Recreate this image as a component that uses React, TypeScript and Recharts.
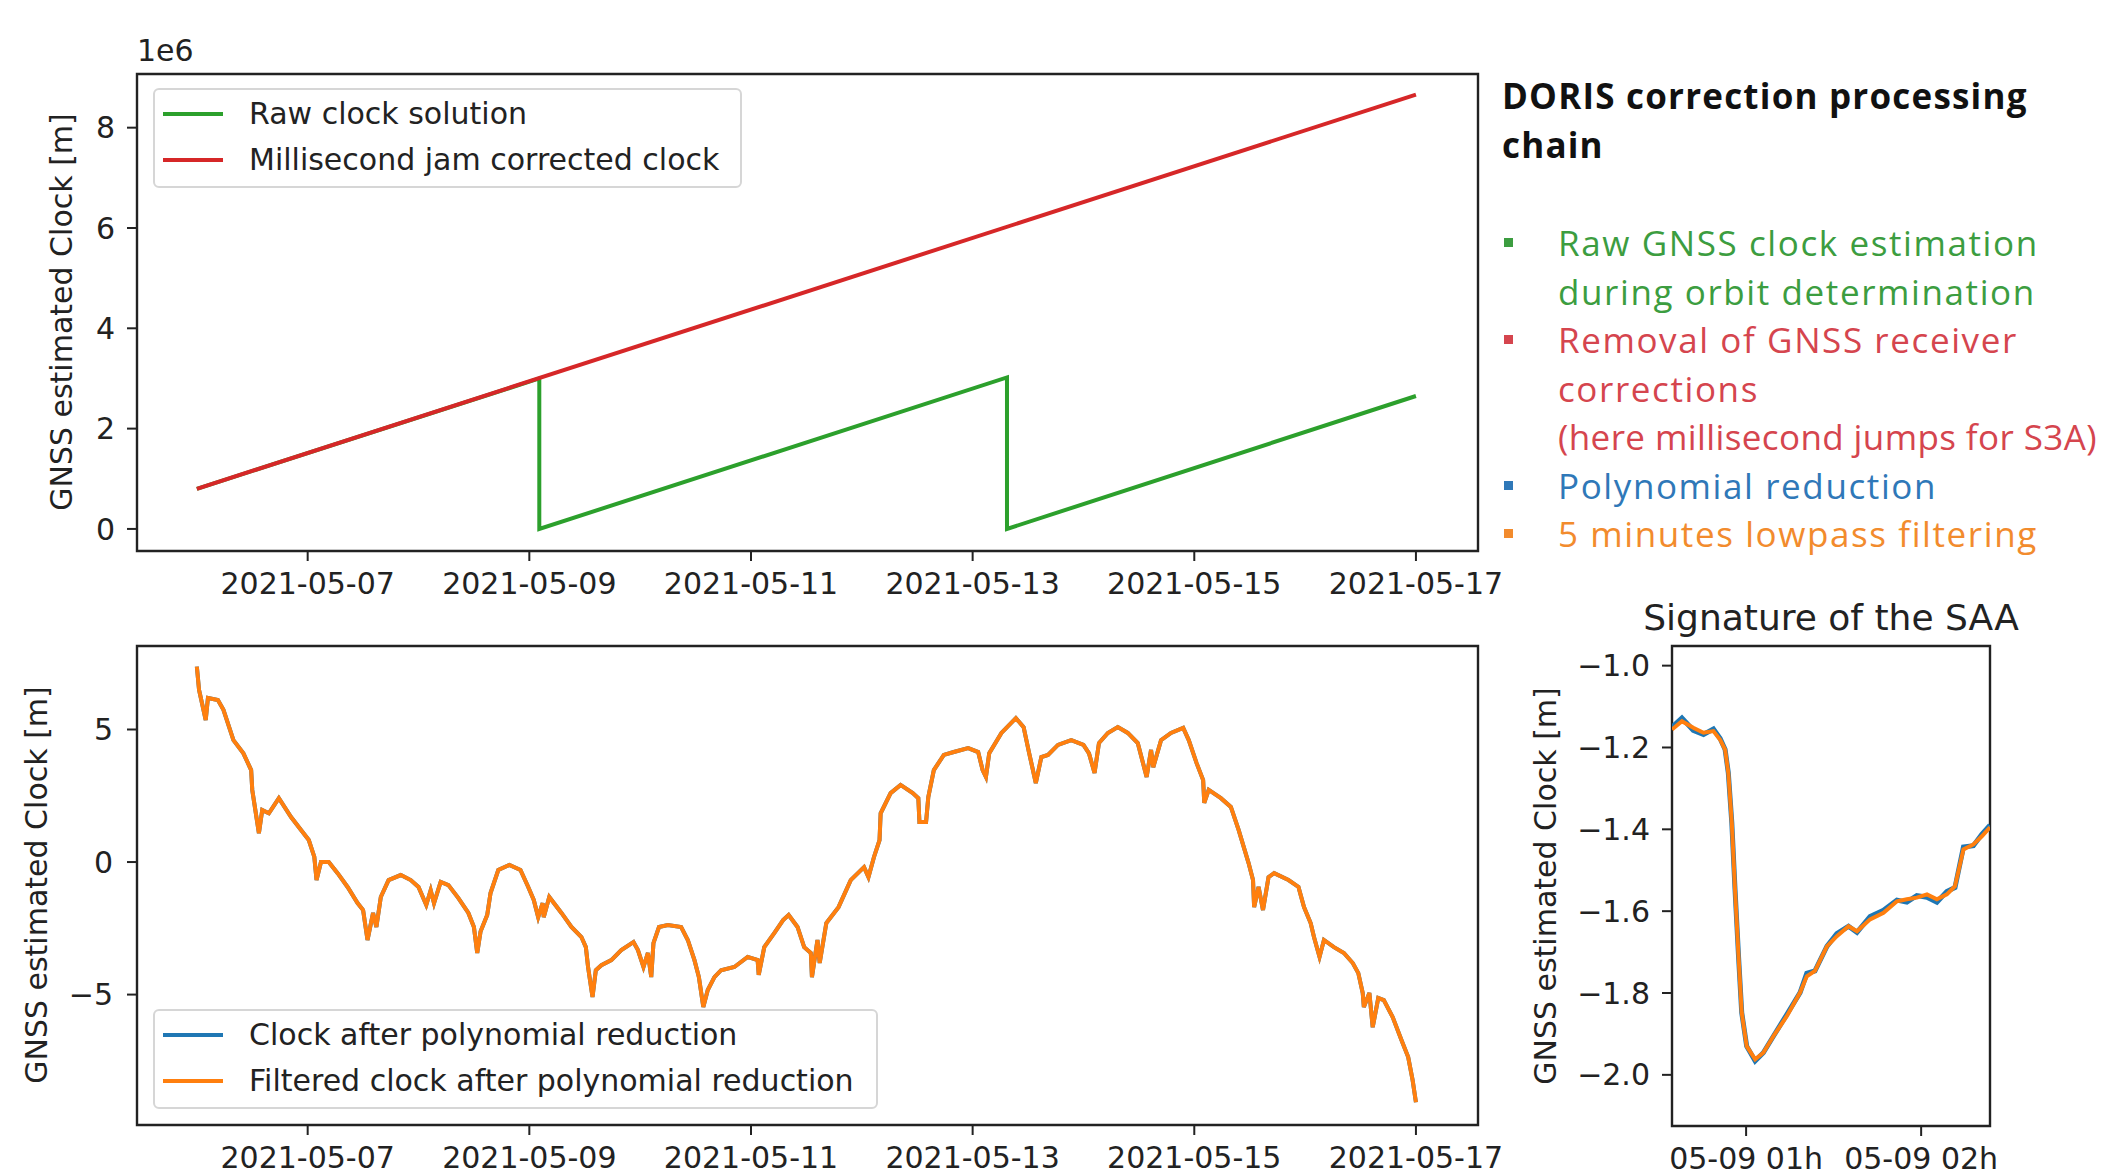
import React from 'react';
import { LineChart, Line, XAxis, YAxis, ReferenceArea } from 'recharts';

// time axis of the two left panels: days since 2021-05-06 00:00
const dayTicks = [1, 3, 5, 7, 9, 11];
const dayTickLabels = ['2021-05-07', '2021-05-09', '2021-05-11', '2021-05-13', '2021-05-15', '2021-05-17'];

// top panel, clock in 1e6 m
const rawTimes = [0, 3.09, 3.09, 7.31, 7.31, 11];
const rawClock = [0.8, 3.0, 0.0, 3.02, 0.0, 2.65];
const jamTimes = [0, 11];
const jamClock = [0.8, 8.66];
const topYTicks = [0, 2, 4, 6, 8];

// bottom panel, clock after polynomial reduction [m]
const polyTimes = [
  0.0, 0.02, 0.08, 0.1, 0.19, 0.24, 0.33, 0.42, 0.49, 0.5, 0.56, 0.59, 0.65, 0.74, 0.85, 0.94, 1.01, 1.06, 1.08,
  1.12, 1.19, 1.27, 1.36, 1.45, 1.5, 1.54, 1.59, 1.62, 1.66, 1.73, 1.84, 1.93, 2.0, 2.07, 2.11, 2.14, 2.2, 2.27,
  2.36, 2.45, 2.5, 2.53, 2.56, 2.62, 2.65, 2.72, 2.82, 2.92, 2.99, 3.04, 3.08, 3.12, 3.13, 3.18, 3.29, 3.38, 3.47,
  3.51, 3.53, 3.57, 3.6, 3.65, 3.74, 3.83, 3.94, 3.98, 4.03, 4.07, 4.1, 4.12, 4.17, 4.25, 4.37, 4.43, 4.49, 4.53,
  4.57, 4.61, 4.67, 4.73, 4.85, 4.97, 5.06, 5.07, 5.12, 5.21, 5.29, 5.34, 5.42, 5.48, 5.54, 5.55, 5.6, 5.62, 5.68,
  5.79, 5.9, 6.02, 6.06, 6.11, 6.16, 6.17, 6.26, 6.35, 6.46, 6.51, 6.52, 6.58, 6.6, 6.65, 6.74, 6.83, 6.96, 7.05,
  7.09, 7.12, 7.15, 7.26, 7.39, 7.46, 7.51, 7.57, 7.62, 7.68, 7.77, 7.89, 8.0, 8.05, 8.1, 8.14, 8.22, 8.31, 8.4,
  8.49, 8.57, 8.61, 8.63, 8.7, 8.79, 8.9, 8.95, 9.02, 9.08, 9.09, 9.13, 9.24, 9.33, 9.4, 9.49, 9.53, 9.54, 9.58,
  9.62, 9.67, 9.72, 9.85, 9.94, 9.99, 10.05, 10.08, 10.13, 10.17, 10.26, 10.35, 10.43, 10.48, 10.52, 10.53, 10.58,
  10.61, 10.66, 10.71, 10.79, 10.87, 10.93, 10.97, 11.0,
];
const polyClock = [
  7.37, 6.49, 5.36, 6.19, 6.11, 5.74, 4.6, 4.1, 3.47, 2.72, 1.09, 1.96, 1.84, 2.41, 1.7, 1.21, 0.83, 0.19, -0.68,
  0.0, 0.0, -0.42, -0.94, -1.55, -1.81, -2.94, -1.92, -2.45, -1.32, -0.68, -0.49, -0.68, -0.94, -1.62, -1.06, -1.55,
  -0.75, -0.87, -1.36, -1.92, -2.45, -3.43, -2.62, -2.0, -1.17, -0.3, -0.11, -0.3, -0.94, -1.43, -2.08, -1.55, -2.08,
  -1.32, -1.92, -2.45, -2.83, -3.21, -3.96, -5.09, -4.08, -3.89, -3.7, -3.32, -3.02, -3.32, -3.96, -3.43, -4.34,
  -3.06, -2.45, -2.38, -2.45, -2.94, -3.7, -4.34, -5.47, -4.83, -4.34, -4.08, -3.96, -3.58, -3.7, -4.26, -3.21,
  -2.68, -2.19, -2.0, -2.45, -3.21, -3.43, -4.34, -2.94, -3.81, -2.3, -1.7, -0.68, -0.19, -0.57, 0.19, 0.83, 1.84,
  2.6, 2.91, 2.6, 2.41, 1.51, 1.51, 2.45, 3.47, 4.04, 4.15, 4.3, 4.15, 3.47, 3.21, 4.11, 4.87, 5.43, 5.09, 4.11,
  2.98, 3.96, 4.04, 4.42, 4.6, 4.42, 4.1, 3.36, 4.49, 4.87, 5.09, 4.87, 4.49, 3.21, 4.23, 3.58, 4.6, 4.87, 5.06,
  4.6, 3.74, 3.09, 2.23, 2.72, 2.41, 2.08, 1.21, -0.04, -0.68, -1.7, -0.94, -1.81, -0.57, -0.42, -0.68, -0.94,
  -1.7, -2.3, -2.83, -3.58, -2.94, -3.21, -3.43, -3.81, -4.19, -4.94, -5.47, -4.94, -6.23, -5.13, -5.21, -5.85,
  -6.72, -7.36, -8.23, -9.06,
];
// the 5 min filtered curve is indistinguishable from the raw one at this scale
const filteredClock = polyClock;
const bottomYTicks = [-5, 0, 5];

// SAA zoom: minutes after 2021-05-09 00:00
const saaTimes = [
  34.6, 38.0, 41.9, 45.4, 48.8, 51.1, 52.8, 53.9, 55.1, 56.2, 57.4, 58.5, 60.2, 63.1, 65.9, 69.4, 74.0, 78.5, 80.8,
  83.6, 87.7, 91.1, 95.1, 98.0, 102.5, 107.1, 111.7, 115.1, 118.5, 122.0, 125.4, 128.8, 131.6, 134.5, 137.9, 140.8,
  143.6,
];
const saaRaw = [
  -1.15, -1.128, -1.158, -1.168, -1.155, -1.178, -1.205, -1.262, -1.384, -1.547, -1.71, -1.848, -1.93, -1.966,
  -1.946, -1.905, -1.852, -1.799, -1.752, -1.746, -1.686, -1.655, -1.637, -1.652, -1.613, -1.598, -1.573, -1.578,
  -1.562, -1.566, -1.578, -1.552, -1.542, -1.443, -1.44, -1.412, -1.39,
];
const saaFiltered = [
  -1.156, -1.136, -1.152, -1.164, -1.16, -1.181, -1.205, -1.262, -1.384, -1.547, -1.71, -1.848, -1.93, -1.962,
  -1.946, -1.905, -1.856, -1.799, -1.759, -1.746, -1.686, -1.661, -1.637, -1.649, -1.62, -1.604, -1.576, -1.571,
  -1.567, -1.559, -1.571, -1.559, -1.539, -1.449, -1.437, -1.417, -1.395,
];
const saaXTicks = [60, 120];
const saaXTickLabels = ['05-09 01h', '05-09 02h'];
const saaYTicks = [-2.0, -1.8, -1.6, -1.4, -1.2, -1.0];

const chainTitle = ['DORIS correction processing', 'chain'];
const chainSteps = [
  { color: '#3c9d40', lines: ['Raw GNSS clock estimation', 'during orbit determination'] },
  { color: '#d5454e', lines: ['Removal of GNSS receiver', 'corrections', '(here millisecond jumps for S3A)'] },
  { color: '#2f78b8', lines: ['Polynomial reduction'] },
  { color: '#f28b2d', lines: ['5 minutes lowpass filtering'] },
];

const GREEN = '#2ca02c';
const RED = '#d62728';
const BLUE = '#1f77b4';
const ORANGE = '#ff7f0e';
const INK = '#222';
const MPL_FONT = '"DejaVu Sans", sans-serif';

const toPoints = (xs: number[], ys: number[]) => xs.map((x, i) => ({ x, y: ys[i] }));
const minus = (s: string) => s.replace('-', '\u2212');
const fmtDay = (v: number) => dayTickLabels[dayTicks.indexOf(v)] ?? '';
const fmtSaaTime = (v: number) => saaXTickLabels[saaXTicks.indexOf(v)] ?? '';

const tickStyle = { fill: INK, fontSize: 30, fontFamily: MPL_FONT };
const tickLine = { stroke: INK, strokeWidth: 2 };

function YTitle({ cx, cy, text }: { cx: number; cy: number; text: string }) {
  return (
    <div
      style={{
        position: 'absolute',
        left: cx,
        top: cy,
        transform: 'translate(-50%, -50%) rotate(-90deg)',
        whiteSpace: 'nowrap',
        fontFamily: MPL_FONT,
        fontSize: 30,
        color: INK,
      }}
    >
      {text}
    </div>
  );
}

function LegendBox({
  left,
  top,
  width,
  items,
}: {
  left: number;
  top: number;
  width: number;
  items: { label: string; color: string }[];
}) {
  return (
    <div
      style={{
        position: 'absolute',
        left,
        top,
        width,
        height: 100,
        boxSizing: 'border-box',
        border: '2px solid #d6d6d6',
        borderRadius: 6,
        background: 'rgba(255,255,255,0.85)',
        fontFamily: MPL_FONT,
        fontSize: 30,
        color: INK,
      }}
    >
      {items.map((it, i) => (
        <div key={it.label} style={{ position: 'absolute', left: 0, top: 1 + i * 46, height: 46, width: '100%' }}>
          <div style={{ position: 'absolute', left: 8, top: 21, width: 60, height: 4, background: it.color }} />
          <div style={{ position: 'absolute', left: 94, top: 0, lineHeight: '46px', whiteSpace: 'nowrap' }}>
            {it.label}
          </div>
        </div>
      ))}
    </div>
  );
}

export default function App() {
  const topX: [number, number] = [-0.54, 11.56];
  const topY: [number, number] = [-0.44, 9.07];
  const botY: [number, number] = [-9.92, 8.15];
  const saaX: [number, number] = [34.6, 143.6];
  const saaY: [number, number] = [-2.125, -0.952];

  return (
    <div
      style={{
        position: 'absolute',
        left: 0,
        top: 0,
        width: 2121,
        height: 1176,
        overflow: 'hidden',
        background: '#fff',
      }}
    >
      {/* top: raw vs millisecond-jam corrected clock */}
      <div style={{ position: 'absolute', left: 0, top: 0 }}>
        <LineChart width={1530} height={620} margin={{ top: 74, right: 52, bottom: 0, left: 0 }}>
          <XAxis
            type="number"
            dataKey="x"
            domain={topX}
            allowDataOverflow
            ticks={dayTicks}
            tickFormatter={fmtDay}
            height={69}
            tickSize={10}
            tickMargin={12}
            tick={tickStyle}
            tickLine={tickLine}
            axisLine={false}
          />
          <YAxis
            type="number"
            dataKey="y"
            domain={topY}
            allowDataOverflow
            ticks={topYTicks}
            width={137}
            tickSize={10}
            tickMargin={12}
            tick={tickStyle}
            tickLine={tickLine}
            axisLine={false}
          />
          <ReferenceArea
            x1={topX[0]}
            x2={topX[1]}
            y1={topY[0]}
            y2={topY[1]}
            fill="none"
            stroke={INK}
            strokeWidth={2.4}
            ifOverflow="visible"
          />
          <Line
            data={toPoints(rawTimes, rawClock)}
            dataKey="y"
            type="linear"
            stroke={GREEN}
            strokeWidth={4}
            dot={false}
            isAnimationActive={false}
          />
          <Line
            data={toPoints(jamTimes, jamClock)}
            dataKey="y"
            type="linear"
            stroke={RED}
            strokeWidth={4}
            dot={false}
            isAnimationActive={false}
          />
        </LineChart>
      </div>
      <div style={{ position: 'absolute', left: 137, top: 33, fontFamily: MPL_FONT, fontSize: 30, color: INK }}>1e6</div>
      <YTitle cx={61} cy={312} text="GNSS estimated Clock [m]" />
      <LegendBox
        left={153}
        top={88}
        width={589}
        items={[
          { label: 'Raw clock solution', color: GREEN },
          { label: 'Millisecond jam corrected clock', color: RED },
        ]}
      />

      {/* bottom: after polynomial reduction */}
      <div style={{ position: 'absolute', left: 0, top: 600 }}>
        <LineChart width={1530} height={576} margin={{ top: 46, right: 52, bottom: 0, left: 0 }}>
          <XAxis
            type="number"
            dataKey="x"
            domain={topX}
            allowDataOverflow
            ticks={dayTicks}
            tickFormatter={fmtDay}
            height={51}
            tickSize={10}
            tickMargin={12}
            tick={tickStyle}
            tickLine={tickLine}
            axisLine={false}
          />
          <YAxis
            type="number"
            dataKey="y"
            domain={botY}
            allowDataOverflow
            ticks={bottomYTicks}
            tickFormatter={(v: number) => minus(String(v))}
            width={137}
            tickSize={10}
            tickMargin={14}
            tick={tickStyle}
            tickLine={tickLine}
            axisLine={false}
          />
          <ReferenceArea
            x1={topX[0]}
            x2={topX[1]}
            y1={botY[0]}
            y2={botY[1]}
            fill="none"
            stroke={INK}
            strokeWidth={2.4}
            ifOverflow="visible"
          />
          <Line
            data={toPoints(polyTimes, polyClock)}
            dataKey="y"
            type="linear"
            stroke={BLUE}
            strokeWidth={4}
            dot={false}
            isAnimationActive={false}
          />
          <Line
            data={toPoints(polyTimes, filteredClock)}
            dataKey="y"
            type="linear"
            stroke={ORANGE}
            strokeWidth={4}
            dot={false}
            isAnimationActive={false}
          />
        </LineChart>
      </div>
      <YTitle cx={36} cy={885} text="GNSS estimated Clock [m]" />
      <LegendBox
        left={153}
        top={1009}
        width={725}
        items={[
          { label: 'Clock after polynomial reduction', color: BLUE },
          { label: 'Filtered clock after polynomial reduction', color: ORANGE },
        ]}
      />

      {/* right: zoom on the South Atlantic Anomaly pass */}
      <div
        style={{
          position: 'absolute',
          left: 1831,
          top: 617,
          transform: 'translate(-50%, -50%)',
          whiteSpace: 'nowrap',
          fontFamily: MPL_FONT,
          fontSize: 36,
          color: INK,
        }}
      >
        Signature of the SAA
      </div>
      <div style={{ position: 'absolute', left: 1500, top: 600 }}>
        <LineChart width={621} height={576} margin={{ top: 46, right: 131, bottom: 0, left: 0 }}>
          <XAxis
            type="number"
            dataKey="x"
            domain={saaX}
            allowDataOverflow
            ticks={saaXTicks}
            tickFormatter={fmtSaaTime}
            height={50}
            tickSize={10}
            tickMargin={12}
            tick={tickStyle}
            tickLine={tickLine}
            axisLine={false}
          />
          <YAxis
            type="number"
            dataKey="y"
            domain={saaY}
            allowDataOverflow
            ticks={saaYTicks}
            tickFormatter={(v: number) => minus(v.toFixed(1))}
            width={172}
            tickSize={10}
            tickMargin={12}
            tick={tickStyle}
            tickLine={tickLine}
            axisLine={false}
          />
          <ReferenceArea
            x1={saaX[0]}
            x2={saaX[1]}
            y1={saaY[0]}
            y2={saaY[1]}
            fill="none"
            stroke={INK}
            strokeWidth={2.4}
            ifOverflow="visible"
          />
          <Line
            data={toPoints(saaTimes, saaRaw)}
            dataKey="y"
            type="linear"
            stroke={BLUE}
            strokeWidth={5}
            dot={false}
            isAnimationActive={false}
          />
          <Line
            data={toPoints(saaTimes, saaFiltered)}
            dataKey="y"
            type="linear"
            stroke={ORANGE}
            strokeWidth={4}
            dot={false}
            isAnimationActive={false}
          />
        </LineChart>
      </div>
      <YTitle cx={1545} cy={886} text="GNSS estimated Clock [m]" />

      {/* processing chain notes */}
      <div style={{ position: 'absolute', left: 1502, top: 71, fontFamily: '"Open Sans", sans-serif' }}>
        {chainTitle.map((t) => (
          <div
            key={t}
            style={{ height: 49, lineHeight: '49px', fontSize: 35, fontWeight: 700, color: '#111', whiteSpace: 'nowrap', letterSpacing: 1.2 }}
          >
            {t}
          </div>
        ))}
      </div>
      <div style={{ position: 'absolute', left: 1502, top: 219, fontFamily: '"Open Sans", sans-serif' }}>
        {chainSteps.map((step) => (
          <div key={step.lines[0]} style={{ position: 'relative' }}>
            <div style={{ position: 'absolute', left: 2, top: 19, width: 9, height: 9, background: step.color }} />
            {step.lines.map((l) => (
              <div
                key={l}
                style={{
                  marginLeft: 56,
                  height: 48.5,
                  lineHeight: '48.5px',
                  fontSize: 35,
                  color: step.color,
                  whiteSpace: 'nowrap',
                  letterSpacing: l.startsWith('(') ? 0.4 : 1.6,
                }}
              >
                {l}
              </div>
            ))}
          </div>
        ))}
      </div>
    </div>
  );
}
